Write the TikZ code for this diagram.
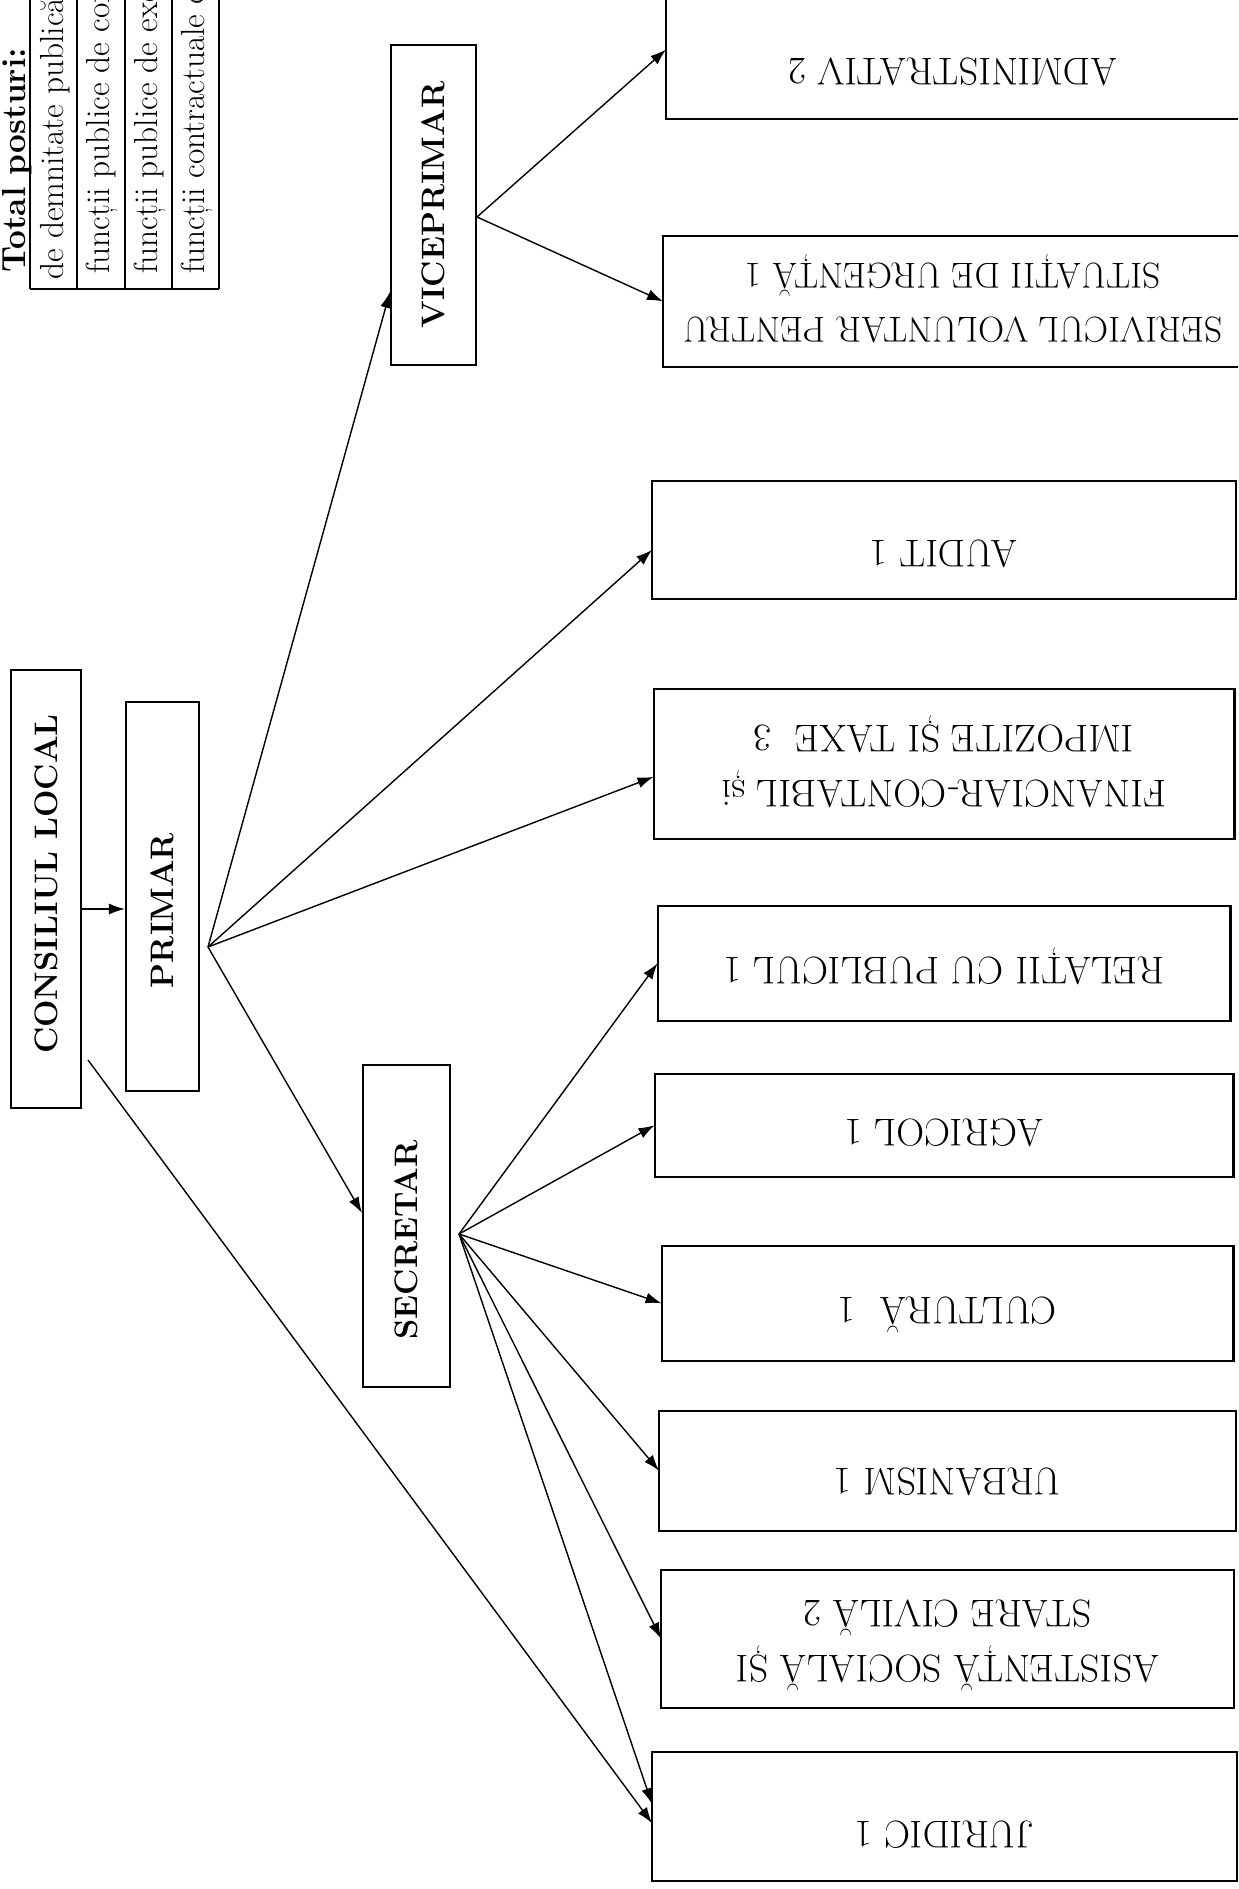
\documentclass[tikz,border=0pt]{standalone}
\usepackage{fontspec}
\usepackage{graphicx}
\usetikzlibrary{positioning, calc, arrows.meta}

\tikzset{
  head/.style = {draw, line width=1.2pt, inner sep=2pt, font=\fontsize{18.5}{22}\selectfont\bfseries},
  unit/.style = {draw, line width=1.2pt, inner sep=1pt, outer sep=0pt, font=\fontsize{22}{31}\selectfont},
  drop/.style = {text height=#1},
  cell/.style = {rotate=90, anchor=west, inner sep=0pt, font=\fontsize{19}{22}\selectfont},
  rule/.style = {line width=0.8pt},
  link/.style = {line width=0.8pt, -{Latex[length=0.32cm, width=0.22cm]}},
}
\newcommand{\updown}[1]{\rotatebox{180}{\begin{tabular}{@{}c@{}}#1\end{tabular}}}
\newcommand{\upward}[1]{\rotatebox{90}{#1}}

\begin{document}
\begin{tikzpicture}[x=0.02cm, y=-0.02cm]
        \useasboundingbox (0,0) rectangle (1238,1889); %
        \clip (0,0) rectangle (1238,1889); %
        % table of posts
        \foreach \x in {30,77,125,172,219} \draw[rule] (\x,-5) -- (\x,289); %
        \draw[rule] (30,289) -- (219,289); %
        \node[cell, font=\fontsize{19}{22}\selectfont\bfseries] (tot) at (17,273) {Total posturi:}; %
        \node[cell] (demn) at (55,280) {de demnitate publică}; %
        \node[cell] (cond) at (102,274) {funcții publice de con}; %
        \node[cell] (exec) at (150,274) {funcții publice de exe}; %
        \node[cell] (contr) at (197,274) {funcții contractuale d}; %
        %
        \node[head, minimum width=1.4cm, minimum height=8.76cm] (consiliul) at (46,889) {\upward{\hspace*{0.2cm}CONSILIUL LOCAL}}; %
        \node[head, minimum width=1.46cm, minimum height=7.78cm] (primar) at (162.5,896.5) {\upward{PRIMAR\hspace*{0.56cm}}}; %
        \node[head, minimum width=1.7cm, minimum height=6.4cm] (vicep) at (433.5,205) {\upward{VICEPRIMAR}}; %
        \node[head, minimum width=1.74cm, minimum height=6.44cm] (secretar) at (406.5,1226) {\upward{SECRETAR\hspace*{0.56cm}}}; %
        %
        \node[unit, drop=33pt, minimum width=11.48cm, minimum height=2.78cm] (admin) at (953,49.5) {\updown{ADMINISTRATIV 2}}; %
        \node[unit, font=\fontsize{20.5}{31}\selectfont, minimum width=11.6cm, minimum height=2.62cm, below = 2.34cm of admin] (serv) {\updown{SERIVICUL VOLUNTAR PENTRU\\SITUAȚII DE URGENȚĂ 1}}; %
        \node[unit, drop=23.5pt, minimum width=11.68cm, minimum height=2.36cm, below = 2.28cm of serv, xshift=-0.18cm] (audit) {\updown{AUDIT 1}}; %
        \node[unit, minimum width=11.62cm, minimum height=3.0cm, below = 1.8cm of audit] (fin) {\updown{FINANCIAR-CONTABIL și\\IMPOZITE ȘI TAXE\ \ 3}}; %
        \node[unit, drop=16pt, minimum width=11.46cm, minimum height=2.3cm, below = 1.34cm of fin] (rel) {\updown{RELAȚII CU PUBLICUL 1}}; %
        \node[unit, drop=16pt, minimum width=11.58cm, minimum height=2.06cm, below = 1.06cm of rel] (agr) {\updown{AGRICOL 1}}; %
        \node[unit, drop=16pt, minimum width=11.44cm, minimum height=2.3cm, below = 1.38cm of agr, xshift=0.07cm] (cult) {\updown{CULTURĂ\ \ 1}}; %
        \node[unit, drop=20.5pt, minimum width=11.54cm, minimum height=2.4cm, below = 1.0cm of cult] (urb) {\updown{URBANISM 1}}; %
        \node[unit, minimum width=11.46cm, minimum height=2.76cm, below = 0.78cm of urb] (asist) {\updown{ASISTENȚĂ SOCIALĂ ȘI\\STARE CIVILĂ 2}}; %
        \node[unit, drop=29pt, minimum width=11.7cm, minimum height=2.58cm, below = 0.88cm of asist, xshift=-0.06cm] (jur) {\updown{JURIDIC 1}}; %
        %
        \coordinate (cp) at (0,909); %
        \coordinate (cl) at (88,1060); %
        \coordinate (pf) at (208,947); %
        \coordinate (vf) at (477,217); %
        \coordinate (sf) at (459,1234); %
        %
        \draw[link] (consiliul.east |- cp) -- (primar.west |- cp); %
        \draw[link] (cl) -- ($(jur.west)+(0,7)$); %
        \draw[link] (pf) -- ($(vicep.west)+(0,87)$); %
        \draw[link] (pf) -- ($(secretar.west)+(0,-13)$); %
        \draw[link] (pf) -- ($(audit.west)+(0,10)$); %
        \draw[link] (pf) -- ($(fin.west)+(0,13)$); %
        \draw[link] (vf) -- (admin.west); %
        \draw[link] (vf) -- (serv.west); %
        \draw[link] (sf) -- (rel.west); %
        \draw[link] (sf) -- (agr.west); %
        \draw[link] (sf) -- (cult.west); %
        \draw[link] (sf) -- (urb.west); %
        \draw[link] (sf) -- (asist.west); %
        \draw[link] (sf) -- ($(jur.west)+(0,-12)$); %
\end{tikzpicture}
\end{document}
